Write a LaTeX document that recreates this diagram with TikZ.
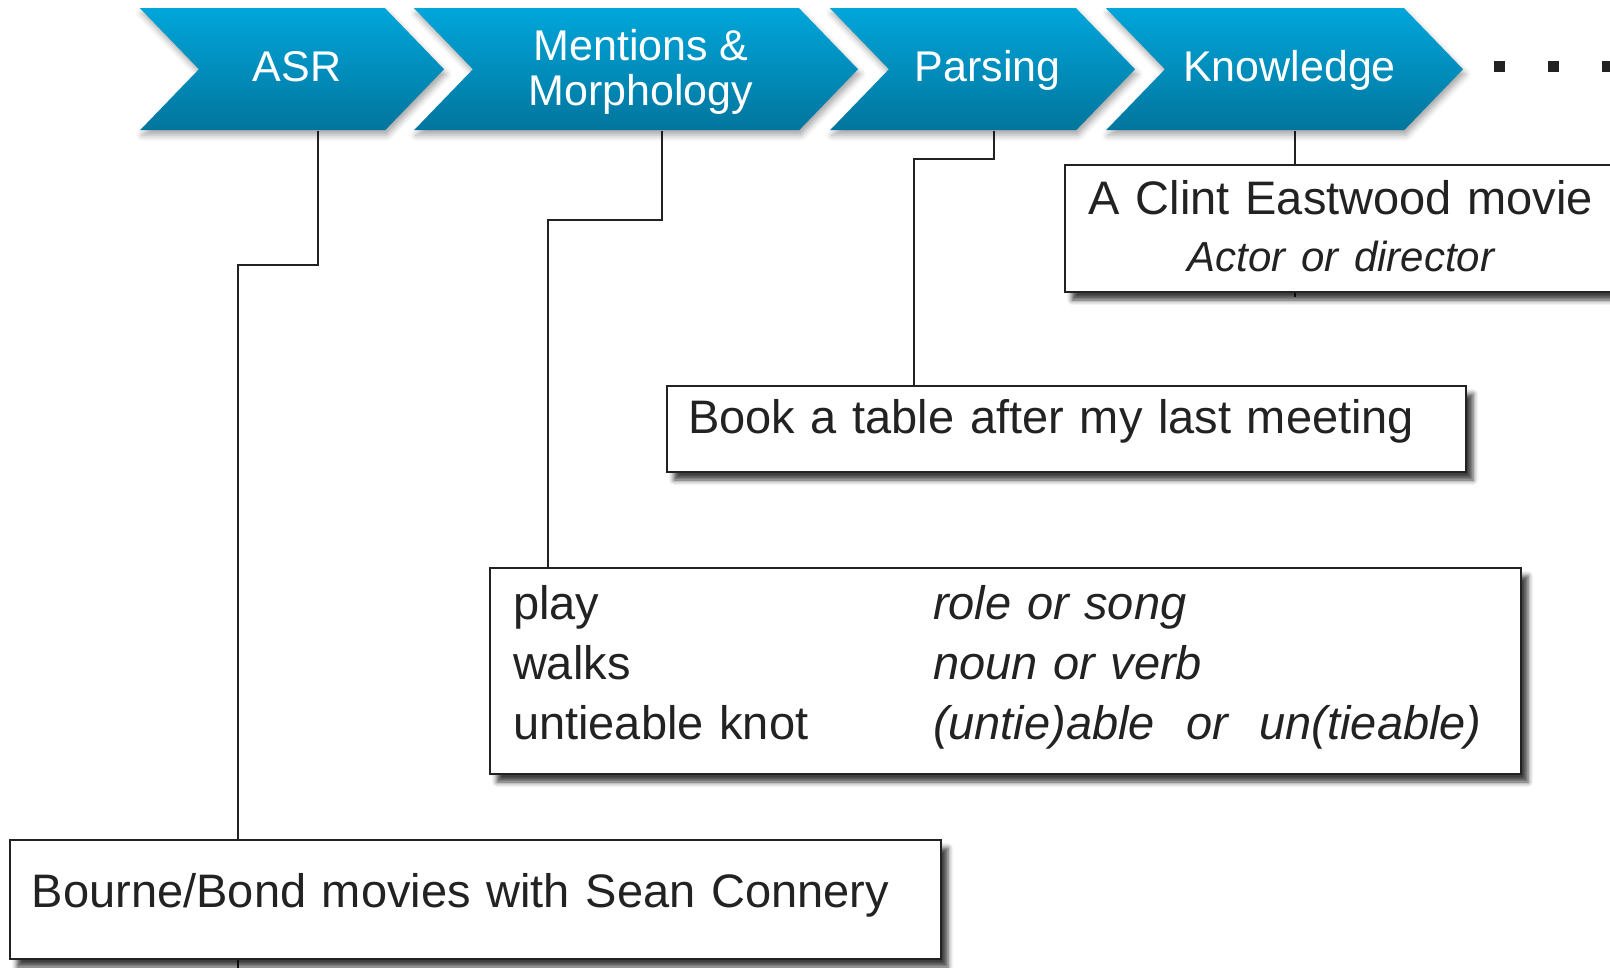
\documentclass[tikz,border=0pt]{standalone}
\usepackage{fontspec}
\setmainfont{Liberation Sans}
\usetikzlibrary{shapes.symbols,shadows.blur,backgrounds}

\definecolor{stagetop}{RGB}{0,166,218}
\definecolor{stagebot}{RGB}{2,117,157}
\definecolor{inkgray}{RGB}{34,34,34}

\tikzset{
  stage/.style={shape=signal, signal from=west, signal to=east, signal pointer angle=92,
    minimum height=61pt, inner sep=0pt, top color=stagetop, bottom color=stagebot,
    text=white, font=\fontsize{21.5}{22.5}\selectfont, align=center,
    text height=16pt, text depth=3.25pt,
    blur shadow={shadow xshift=1pt, shadow yshift=-2.5pt, shadow opacity=35, shadow blur radius=3pt}},
  infobox/.style={draw=inkgray, line width=1pt, fill=white, anchor=north west, inner ysep=0pt,
    text=inkgray, font=\fontsize{23.5}{30}\selectfont,
    blur shadow={shadow xshift=3.5pt, shadow yshift=-4pt, shadow opacity=75, shadow blur radius=2.5pt}},
  wire/.style={draw=inkgray, line width=1pt},
  elldot/.style={fill=inkgray, minimum size=5.5pt, inner sep=0pt}
}

\begin{document}
\begin{tikzpicture}[x=0.5pt,y=-0.5pt]
\useasboundingbox (0,0) rectangle (1610,968);

% pipeline stages
\node (asr)  at (292,69.25)    [stage, minimum width=152pt]   {\hspace*{5pt}ASR};
\node (ment) at (636,69.25)    [stage, minimum width=222pt, text height=38.5pt, text depth=1.75pt]
  {\hspace*{5pt}Mentions \&\\\hspace*{5pt}Morphology};
\node (pars) at (982.5,69.25)  [stage, minimum width=152.5pt] {\hspace*{5pt}Parsing};
\node (know) at (1284.5,69.25) [stage, minimum width=178.5pt] {\hspace*{5pt}Knowledge};
\foreach \x [count=\i] in {1499.5,1553.5,1607.5}
  \node (gap\i) at (\x,66.5) [elldot] {};

% example boxes
\node (knowbox) at (1064,164) [infobox, inner xsep=0pt, text width=276pt, align=center,
  text height=24.5pt, text depth=39pt, font=\fontsize{23.5}{28.5}\selectfont]
  {A Clint Eastwood movie\\{\fontsize{21}{28.5}\selectfont\itshape Actor or director}};
\node (bookbox) at (666,385) [infobox, inner xsep=10.5pt, text width=378.5pt, align=left,
  text height=23.5pt, text depth=19.5pt]
  {Book a table after my last meeting};
\node (mentbox) at (489,567) [infobox, inner xsep=11.5pt, text width=492.5pt, align=left,
  text height=25.5pt, text depth=77.5pt]
  {\makebox[210pt][l]{play}\textit{role or song}\\
   \makebox[210pt][l]{walks}\textit{noun or verb}\\
   \makebox[210pt][l]{untieable knot}\textit{(untie)able\ \ or\ \ un(tieable)}};
\node (bournebox) at (9,839) [infobox, inner xsep=11pt, text width=443.5pt, align=left,
  text height=33.5pt, text depth=26pt]
  {Bourne/Bond movies with Sean Connery};

% connectors
\coordinate (asrbend)  at (238,265);
\coordinate (asrend)   at (238,968);
\coordinate (mentbend) at (548,220);
\coordinate (parsbend) at (914,159);
\coordinate (knowend)  at (1295,297);

\begin{scope}[on background layer]
\path [wire]
  ([xshift=13pt]asr.south)    |- (asrbend)  -- (asrend)
  ([xshift=13pt]ment.south)   |- (mentbend) -- (mentbox.north -| mentbend)
  ([xshift=5.75pt]pars.south) |- (parsbend) -- (bookbox.north -| parsbend)
  ([xshift=5.25pt]know.south) -- (knowend);
\end{scope}

\end{tikzpicture}
\end{document}
